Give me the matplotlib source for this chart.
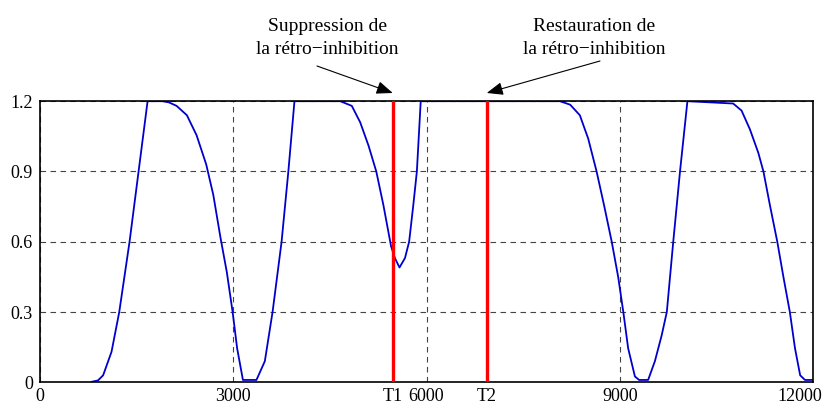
"""Activity trace with suppression / restoration of retro-inhibition."""
import matplotlib
matplotlib.use("Agg")
import matplotlib.pyplot as plt
from matplotlib.transforms import ScaledTranslation

# time (ms) and activity
t = [800, 900, 980, 1110, 1230, 1390, 1530, 1670, 1900, 2000, 2120, 2280, 2430,
     2580, 2690, 2800, 2900, 2990, 3060, 3150, 3360, 3490, 3610, 3750, 3855,
     3950, 4660, 4840, 4970, 5100, 5220, 5330, 5450, 5510, 5580, 5665, 5730,
     5795, 5850, 5910, 8070, 8230, 8380, 8510, 8640, 8755, 8875, 8975, 9055,
     9130, 9235, 9300, 9440, 9545, 9650, 9730, 9830, 9935, 10050, 10760,
     10890, 11020, 11150, 11230, 11330, 11445, 11540, 11640, 11720, 11800,
     11875, 12000]
v = [0.002, 0.008, 0.03, 0.13, 0.30, 0.60, 0.90, 1.2, 1.2, 1.195, 1.18, 1.14, 1.055,
     0.93, 0.80, 0.62, 0.47, 0.30, 0.145, 0.01, 0.01, 0.09, 0.30, 0.60, 0.90,
     1.2, 1.2, 1.18, 1.11, 1.01, 0.90, 0.757, 0.58, 0.53, 0.49, 0.53, 0.60,
     0.757, 0.90, 1.2, 1.2, 1.185, 1.14, 1.04, 0.90, 0.757, 0.60, 0.45, 0.30,
     0.145, 0.025, 0.01, 0.01, 0.09, 0.20, 0.30, 0.60, 0.90, 1.2, 1.19,
     1.16, 1.08, 0.98, 0.90, 0.757, 0.60, 0.45, 0.30, 0.145, 0.03,
     0.01, 0.01]

T1 = 5475
T2 = 6935
xticks = [0, 3000, T1, 6000, T2, 9000, 12000]
xlabels = ["0", "3000", "T1", "6000", "T2", "9000", "12000"]
yticks = [0, 0.3, 0.6, 0.9, 1.2]
ylabels = ["0", "0.3", "0.6", "0.9", "1.2"]

plt.rcParams["font.family"] = ["Liberation Serif", "DejaVu Serif"]
plt.rcParams["font.size"] = 13

fig = plt.figure(figsize=(8.25, 4.08), dpi=100)
ax = fig.add_axes([0.0485, 0.063, 0.937, 0.689])

ax.plot(t, v, color="#0000cc", linewidth=1.3, zorder=2)
ax.axvline(T1, color="#ff0000", linewidth=2.4, zorder=3)
ax.axvline(T2, color="#ff0000", linewidth=2.4, zorder=3)

ax.set_xlim(0, 12000)
ax.set_ylim(0, 1.2)
ax.set_xticks(xticks)
ax.set_xticklabels(xlabels)
ax.set_yticks(yticks)
ax.set_yticklabels(ylabels)
ax.tick_params(length=0)
ax.tick_params(axis="x", pad=4)
ax.tick_params(axis="y", pad=5)
ax.grid(True, color="#444444", linestyle=(0, (5, 4)), linewidth=0.8, zorder=1)
ax.set_axisbelow(True)
for s in ax.spines.values():
    s.set_linewidth(1.2)
    s.set_color("black")

# last x label sits pulled in from the right edge
last = ax.get_xticklabels()[-1]
last.set_transform(last.get_transform() + ScaledTranslation(-13 / 100, 0, fig.dpi_scale_trans))

# annotations above the plot
fig.text(0.397, 0.907, "Suppression de\nla rétro\u2212inhibition",
         ha="center", va="center", linespacing=1.45, fontsize=14)
fig.text(0.72, 0.907, "Restauration de\nla rétro\u2212inhibition",
         ha="center", va="center", linespacing=1.45, fontsize=14)
arrow = dict(arrowstyle="-|>,head_length=0.55,head_width=0.22", color="black",
             lw=0.8, mutation_scale=18, shrinkA=0, shrinkB=0)
ax.annotate("", xy=(T1, 1.235), xytext=(317 / 825, 1 - 66 / 408),
            xycoords="data", textcoords="figure fraction",
            arrowprops=arrow, annotation_clip=False)
ax.annotate("", xy=(T2, 1.235), xytext=(600 / 825, 1 - 61 / 408),
            xycoords="data", textcoords="figure fraction",
            arrowprops=arrow, annotation_clip=False)

fig.savefig("out.png", dpi=100)
